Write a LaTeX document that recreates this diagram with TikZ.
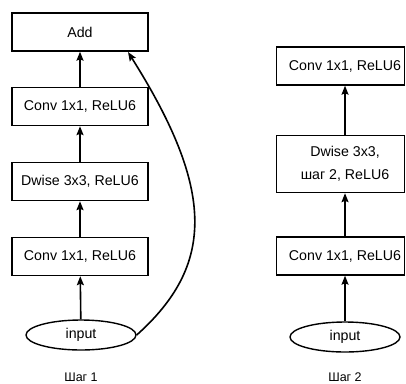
\documentclass[tikz,border=0pt]{standalone}
\usepackage{fontspec}
\setmainfont{Liberation Sans}
\usetikzlibrary{shapes.geometric,arrows.meta}
\begin{document}
\begin{tikzpicture}[x=1pt,y=-1pt,
  blk/.style={draw=black,line width=1.4pt,minimum width=136pt,minimum height=38pt,inner sep=0pt,font=\fontsize{14.2}{23}\selectfont,align=center},
  rblk/.style={blk,minimum width=128pt},
  inp/.style={ellipse,draw=black,line width=1.4pt,minimum width=110pt,minimum height=30pt,inner sep=0pt,font=\fontsize{14.2}{16}\selectfont},
  lbl/.style={font=\fontsize{12.5}{15}\selectfont},
  arr/.style={line width=1.6pt,-{Stealth[length=9pt,width=7pt,inset=1.5pt]}}]
\useasboundingbox (0,0) rectangle (406,383);
% left column
\node[blk] (add) at (80,32) {Add};
\node[blk] (c1) at (80,106.5) {Conv 1x1, ReLU6};
\node[blk] (dw) at (80,181.5) {Dwise 3x3, ReLU6};
\node[blk] (c0) at (80,256.5) {Conv 1x1, ReLU6};
\node[inp] (in1) at (81,335) {input};
\node[lbl] (s1) at (81,377) {Шаг 1};
\draw[arr] (in1) -- (c0);
\draw[arr] (c0) -- (dw);
\draw[arr] (dw) -- (c1);
\draw[arr] (c1) -- (add);
\coordinate (tip) at (128,52);
\draw[arr] (in1.east) .. controls (215,265) and (215,190) .. (tip);
% right column
\node[rblk] (rc1) at (340.5,66) {\hspace*{9pt}Conv 1x1, ReLU6};
\node[rblk,minimum height=57pt] (rdw) at (340.5,164) {\hspace*{9pt}Dwise 3x3,\\\hspace*{9pt}шаг 2, ReLU6};
\node[rblk] (rc0) at (340.5,256) {\hspace*{9pt}Conv 1x1, ReLU6};
\node[inp] (in2) at (345,337) {input};
\node[lbl] (s2) at (345,377) {Шаг 2};
\draw[arr] (in2) -- (in2 |- rc0.south);
\draw[arr] (in2 |- rc0.north) -- (in2 |- rdw.south);
\draw[arr] (in2 |- rdw.north) -- (in2 |- rc1.south);
\end{tikzpicture}
\end{document}
